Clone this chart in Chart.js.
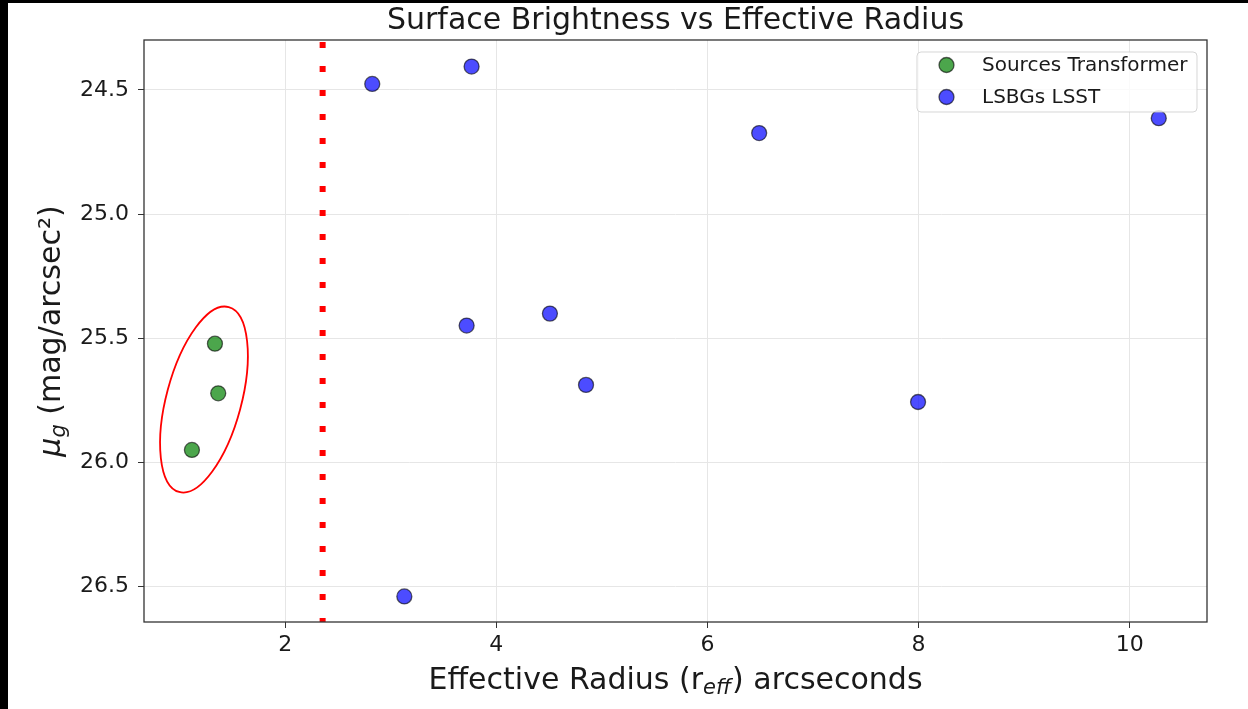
<!DOCTYPE html>
<html>
<head>
<meta charset="utf-8">
<title>Surface Brightness vs Effective Radius</title>
<script src="https://cdn.jsdelivr.net/npm/chart.js@4"></script>
<style>
  html, body { margin: 0; padding: 0; background: #000; }
  #wrap { position: absolute; left: 8px; top: 3px; width: 1240px; height: 706px; background: #fff; }
</style>
</head>
<body>
<div id="wrap"><canvas id="chart" width="1240" height="706"></canvas></div>
<script>
// Data
const transformerX = [1.335, 1.366, 1.117];
const transformerY = [25.522, 25.722, 25.950];
const lsstX = [2.825, 3.766, 6.490, 10.275, 3.719, 4.508, 4.850, 7.995, 3.129];
const lsstY = [24.476, 24.406, 24.674, 24.614, 25.449, 25.401, 25.688, 25.757, 26.540];
const seriesLabels = ['Sources Transformer', 'LSBGs LSST'];
const xTicks = [2, 4, 6, 8, 10];
const yTicks = [24.5, 25.0, 25.5, 26.0, 26.5];
const cutoffRadius = 2.355;
// highlight ellipse around transformer sources (data units)
const ellipseCenter = [1.231, 25.747];
const ellipseRadii = [0.355, 0.3855];
const ellipseAngle = 15;

const FONT = "'DejaVu Sans', sans-serif";

function toPoints(xs, ys) {
  return xs.map((x, i) => ({ x: x, y: ys[i] }));
}

// extra drawing: cutoff line, ellipse, box frame, legend, axis titles
const extras = {
  id: 'extras',
  beforeDatasetsDraw(chart) {
    const { ctx, chartArea: a, scales } = chart;
    const px = scales.x.getPixelForValue(cutoffRadius);
    ctx.save();
    ctx.beginPath();
    ctx.rect(a.left, a.top, a.right - a.left, a.bottom - a.top);
    ctx.clip();
    ctx.strokeStyle = '#ff0000';
    ctx.lineWidth = 6;
    ctx.setLineDash([6, 18]);
    ctx.beginPath();
    ctx.moveTo(px, a.top + 2);
    ctx.lineTo(px, a.bottom);
    ctx.stroke();
    ctx.restore();
  },
  afterDatasetsDraw(chart) {
    const { ctx, chartArea: a, scales } = chart;
    const sx = scales.x, sy = scales.y;
    ctx.save();
    // ellipse
    const cx = sx.getPixelForValue(ellipseCenter[0]);
    const cy = sy.getPixelForValue(ellipseCenter[1]);
    const rx = Math.abs(sx.getPixelForValue(ellipseCenter[0] + ellipseRadii[0]) - cx);
    const ry = Math.abs(sy.getPixelForValue(ellipseCenter[1] + ellipseRadii[1]) - cy);
    ctx.strokeStyle = '#ff0000';
    ctx.lineWidth = 1.8;
    ctx.beginPath();
    ctx.ellipse(cx, cy, rx, ry, ellipseAngle * Math.PI / 180, 0, Math.PI * 2);
    ctx.stroke();

    // frame
    ctx.strokeStyle = '#333';
    ctx.lineWidth = 1.3;
    ctx.strokeRect(a.left, a.top, a.right - a.left, a.bottom - a.top);

    // legend
    const bw = 280, bh = 60;
    const bx = a.right - 10 - bw, by = a.top + 12;
    ctx.fillStyle = 'rgba(255,255,255,0.8)';
    ctx.strokeStyle = 'rgba(204,204,204,0.8)';
    ctx.lineWidth = 1;
    ctx.beginPath();
    ctx.roundRect(bx, by, bw, bh, 4);
    ctx.fill();
    ctx.stroke();
    ctx.font = '20px ' + FONT;
    ctx.textBaseline = 'middle';
    ctx.textAlign = 'left';
    chart.data.datasets.forEach((ds, i) => {
      const ly = by + 13 + i * 32;
      ctx.beginPath();
      ctx.arc(bx + 29.5, ly, 7.5, 0, Math.PI * 2);
      ctx.fillStyle = ds.backgroundColor;
      ctx.fill();
      ctx.lineWidth = ds.borderWidth;
      ctx.strokeStyle = ds.borderColor;
      ctx.stroke();
      ctx.fillStyle = '#1a1a1a';
      ctx.fillText(ds.label, bx + 65, ly + 1);
    });

    // x axis title with subscript
    ctx.fillStyle = '#1a1a1a';
    ctx.textBaseline = 'alphabetic';
    const big = '30px ' + FONT, small = 'italic 21px ' + FONT;
    const p1 = 'Effective Radius (r', p2 = 'eff', p3 = ') arcseconds';
    ctx.font = big; const w1 = ctx.measureText(p1).width, w3 = ctx.measureText(p3).width;
    ctx.font = small; const w2 = ctx.measureText(p2).width;
    let tx = (a.left + a.right) / 2 - (w1 + w2 + w3 + 1) / 2;
    const tyBase = 686;
    ctx.font = big; ctx.fillText(p1, tx, tyBase); tx += w1;
    ctx.font = small; ctx.fillText(p2, tx, tyBase + 5); tx += w2 + 1;
    ctx.font = big; ctx.fillText(p3, tx, tyBase);

    // y axis title, rotated
    ctx.save();
    ctx.translate(40, (a.top + a.bottom) / 2);
    ctx.rotate(-Math.PI / 2);
    const q1 = '\u03bc', q2 = 'g', q3 = ' (mag/arcsec\u00b2)';
    ctx.font = 'italic 30px ' + FONT; const v1 = ctx.measureText(q1).width;
    ctx.font = small; const v2 = ctx.measureText(q2).width;
    ctx.font = big; const v3 = ctx.measureText(q3).width;
    let ux = -(v1 + v2 + v3) / 2;
    ctx.font = 'italic 30px ' + FONT; ctx.fillText(q1, ux, 12); ux += v1;
    ctx.font = small; ctx.fillText(q2, ux, 17); ux += v2;
    ctx.font = big; ctx.fillText(q3, ux, 12);
    ctx.restore();

    ctx.restore();
  }
};

new Chart(document.getElementById('chart'), {
  type: 'scatter',
  data: {
    datasets: [{
      label: seriesLabels[0],
      data: toPoints(transformerX, transformerY),
      backgroundColor: 'rgba(0,128,0,0.7)',
      borderColor: 'rgba(0,0,0,0.6)',
      borderWidth: 1.3,
      pointRadius: 7.5,
      pointHoverRadius: 7.5
    }, {
      label: seriesLabels[1],
      data: toPoints(lsstX, lsstY),
      backgroundColor: 'rgba(0,0,255,0.7)',
      borderColor: 'rgba(0,0,0,0.6)',
      borderWidth: 1.3,
      pointRadius: 7.5,
      pointHoverRadius: 7.5
    }]
  },
  options: {
    responsive: false,
    animation: false,
    layout: { padding: { top: 0, right: 41, bottom: 0, left: 0 } },
    plugins: {
      legend: { display: false },
      tooltip: { enabled: false },
      title: {
        display: true,
        fullSize: false,
        text: 'Surface Brightness vs Effective Radius',
        color: '#1a1a1a',
        font: { family: FONT, size: 30, weight: 'normal', lineHeight: 1.2 },
        padding: { top: 0, bottom: 1 }
      }
    },
    scales: {
      x: {
        type: 'linear',
        min: 0.663,
        max: 10.732,
        afterFit: s => { s.height = 87; },
        afterBuildTicks: s => { s.ticks = xTicks.map(v => ({ value: v })); },
        ticks: { color: '#1a1a1a', font: { family: FONT, size: 22 }, padding: 4, maxRotation: 0 },
        grid: { color: '#e6e6e6', lineWidth: 1, tickLength: 6, tickColor: '#333', drawTicks: true },
        border: { display: false }
      },
      y: {
        type: 'linear',
        reverse: true,
        min: 24.299,
        max: 26.643,
        afterFit: s => { s.width = 136; },
        afterBuildTicks: s => { s.ticks = yTicks.map(v => ({ value: v })); },
        ticks: {
          color: '#1a1a1a', font: { family: FONT, size: 22 }, padding: 9,
          callback: v => v.toFixed(1)
        },
        grid: { color: '#e6e6e6', lineWidth: 1, tickLength: 6, tickColor: '#333', drawTicks: true },
        border: { display: false }
      }
    }
  },
  plugins: [extras]
});
</script>
</body>
</html>
